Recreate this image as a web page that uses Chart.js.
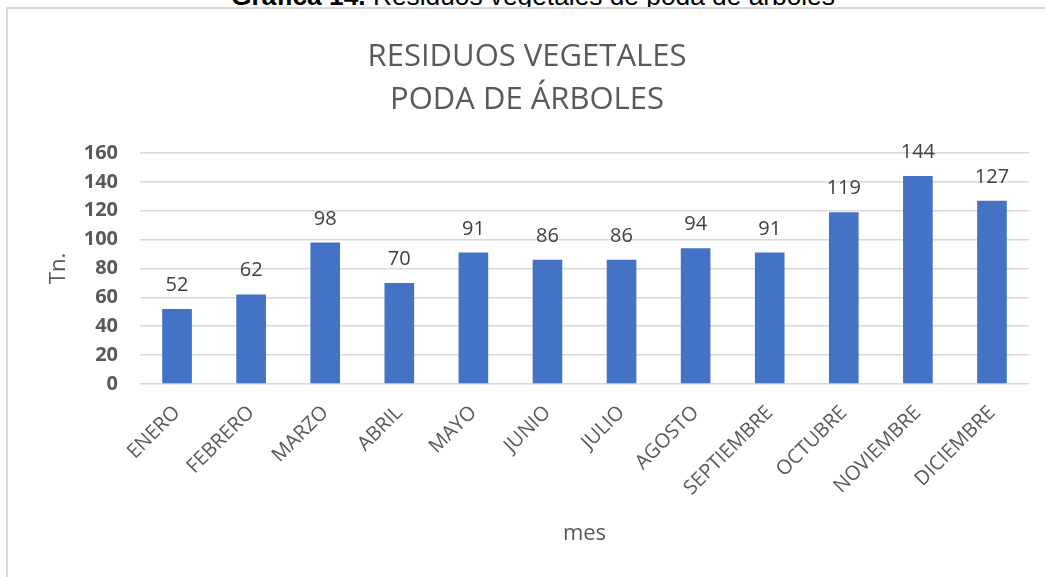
<!DOCTYPE html>
<html><head><meta charset="utf-8">
<script src="https://cdn.jsdelivr.net/npm/chart.js@4.4.1/dist/chart.umd.min.js"></script>
<style>
html,body{margin:0;padding:0;width:1045px;height:577px;overflow:hidden;background:#fff;}
#caption{position:absolute;left:0;width:1066px;top:-17px;text-align:center;font-family:"Liberation Sans",Arial,sans-serif;font-size:26.3px;line-height:26px;color:#000;white-space:nowrap;}
#frame{position:absolute;left:6px;top:7px;width:1100px;height:600px;border-left:2px solid #d9d9d9;border-top:2px solid #d9d9d9;background:#fff;}
#c{position:absolute;left:0;top:0;}
</style></head>
<body>
<div id="caption"><b>Gráfica 14.</b> Residuos vegetales de poda de árboles</div>
<div id="frame"></div>
<canvas id="c" width="1045" height="577"></canvas>
<script>
const titleLines = ['RESIDUOS VEGETALES', 'PODA DE ÁRBOLES'];
const months = ['ENERO','FEBRERO','MARZO','ABRIL','MAYO','JUNIO','JULIO','AGOSTO','SEPTIEMBRE','OCTUBRE','NOVIEMBRE','DICIEMBRE'];
const tonnes = [52, 62, 98, 70, 91, 86, 86, 94, 91, 119, 144, 127];
const yMin = 0, yMax = 160, yStep = 20;
const yTitle = 'Tn.';
const xTitle = 'mes';

const FONT = '"Open Sans", "DejaVu Sans", sans-serif';

const valueLabels = {
  id: 'valueLabels',
  afterDatasetsDraw(chart) {
    const ctx = chart.ctx;
    const meta = chart.getDatasetMeta(0);
    const data = chart.data.datasets[0].data;
    ctx.save();
    ctx.font = '20px ' + FONT;
    ctx.fillStyle = '#404040';
    ctx.textAlign = 'center';
    ctx.textBaseline = 'alphabetic';
    meta.data.forEach((bar, i) => {
      ctx.fillText(String(data[i]), bar.x, bar.y - 18);
    });
    ctx.restore();
  }
};

// centre the chart title on the whole frame rather than on the padded layout box
const titleShift = {
  id: 'titleShift',
  afterLayout(chart) {
    if (chart.titleBlock) {
      chart.titleBlock.left = 25;
    }
  }
};

new Chart(document.getElementById('c'), {
  type: 'bar',
  data: {
    labels: months,
    datasets: [{
      data: tonnes,
      backgroundColor: '#4472C4',
      borderWidth: 0,
      barPercentage: 0.4,
      categoryPercentage: 1.0
    }]
  },
  options: {
    responsive: false,
    animation: false,
    layout: { padding: { left: 0, right: 16, top: 0, bottom: 0 } },
    plugins: {
      legend: { display: false },
      tooltip: { enabled: false },
      title: {
        display: true,
        text: titleLines,
        color: '#595959',
        font: { family: FONT, size: 31, weight: 'normal', lineHeight: 1.387 },
        padding: { top: 36, bottom: 31 }
      }
    },
    scales: {
      x: {
        grid: { display: false },
        border: { display: false },
        ticks: {
          autoSkip: false,
          maxRotation: 45,
          minRotation: 45,
          color: '#595959',
          font: { family: FONT, size: 20 },
          padding: 9
        },
        title: {
          display: true,
          text: xTitle,
          color: '#595959',
          font: { family: FONT, size: 22 },
          padding: { top: 0, bottom: 30 }
        },
        afterFit: (s) => { s.height = 193; }
      },
      y: {
        min: yMin,
        max: yMax,
        grid: { color: '#d9d9d9', lineWidth: 1.5, drawTicks: false },
        border: { display: false },
        ticks: {
          stepSize: yStep,
          color: '#595959',
          font: { family: FONT, size: 20, weight: 'bold' },
          padding: 22
        },
        title: {
          display: true,
          text: yTitle,
          color: '#595959',
          font: { family: FONT, size: 22 },
          padding: { top: 46, bottom: 0 }
        },
        afterFit: (s) => { s.width = 140; }
      }
    }
  },
  plugins: [valueLabels, titleShift]
});
</script>
</body></html>
